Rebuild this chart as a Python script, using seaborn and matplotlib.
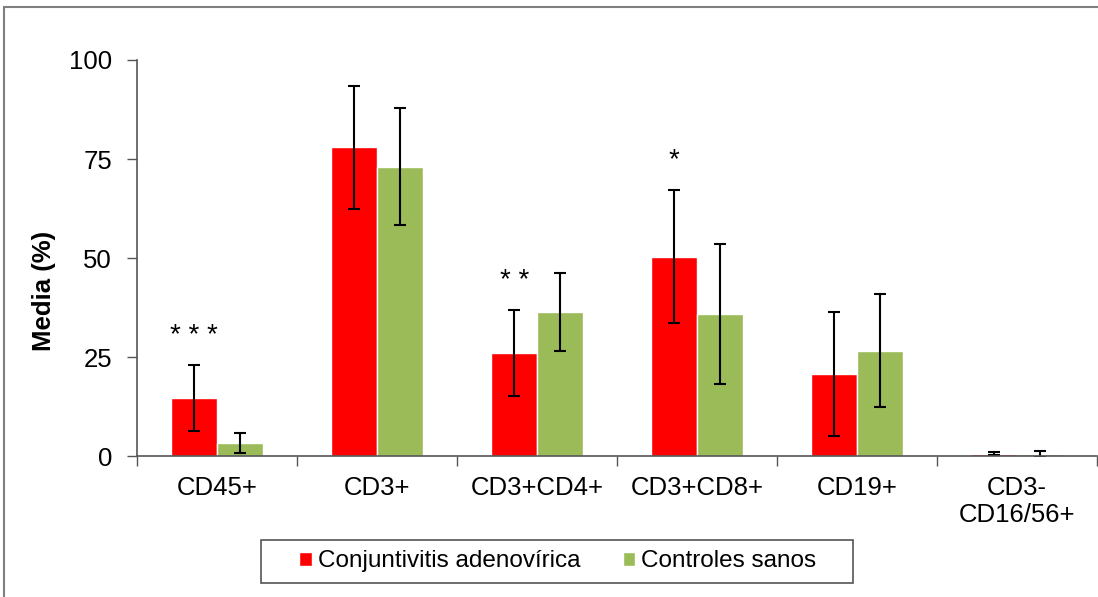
import numpy as np
import pandas as pd
import matplotlib
matplotlib.use("Agg")
import matplotlib.pyplot as plt
from matplotlib.patches import Rectangle
import seaborn as sns

categories = ["CD45+", "CD3+", "CD3+CD4+", "CD3+CD8+", "CD19+", "CD3-\nCD16/56+"]
series = ["Conjuntivitis adenovírica", "Controles sanos"]
adeno_mean = [14.6, 78.0, 26.0, 50.3, 20.8, 0.6]
adeno_err = [8.3, 15.5, 10.8, 16.8, 15.6, 0.4]
ctrl_mean = [3.3, 73.1, 36.4, 35.9, 26.6, 0.6]
ctrl_err = [2.5, 14.8, 9.9, 17.7, 14.3, 0.7]
signif = ["* * *", "", "* *", "*", "", ""]
colors = ["#FF0000", "#9BBB59"]
yticks = [0, 25, 50, 75, 100]

sns.set_style("white")
plt.rcParams["font.family"] = ["Liberation Sans", "DejaVu Sans"]
plt.rcParams["text.color"] = "black"
plt.rcParams["axes.labelcolor"] = "black"
plt.rcParams["xtick.labelcolor"] = "black"
plt.rcParams["ytick.labelcolor"] = "black"

df = pd.DataFrame({
    "cat": categories * 2,
    "grupo": [series[0]] * 6 + [series[1]] * 6,
    "val": adeno_mean + ctrl_mean,
    "err": adeno_err + ctrl_err,
})

fig = plt.figure(figsize=(10.98, 5.97), dpi=100)
ax = fig.add_axes([0.1248, 0.236, 0.8742, 0.6635])
sns.barplot(data=df, x="cat", y="val", hue="grupo", palette=colors,
            order=categories, hue_order=series, width=0.57, gap=0,
            saturation=1, errorbar=None, ax=ax, legend=True)

# error bars from bar patches
bars = [p for p in ax.patches if p.get_width() > 0][:12]
errs = adeno_err + ctrl_err
vals = adeno_mean + ctrl_mean
for p, v, e in zip(bars, vals, errs):
    xc = p.get_x() + p.get_width() / 2
    ax.errorbar(xc, v, yerr=e, fmt="none", ecolor="black", elinewidth=1.5,
                capsize=4.5, capthick=1.5)

# significance stars above the red bars
for i, s in enumerate(signif):
    if s:
        p = bars[i]
        xc = p.get_x() + p.get_width() / 2
        ax.text(xc, adeno_mean[i] + adeno_err[i] + 7.5, s, ha="center", va="center",
                fontsize=20, color="black")

ax.set_ylim(0, 100)
ax.set_xlim(-0.5, len(categories) - 0.5)
ax.set_yticks(yticks)
ax.set_xlabel("")
ax.set_ylabel("Media (%)", fontsize=18.5, fontweight="bold")
ax.yaxis.set_label_coords(-0.084, 0.417)
ax.tick_params(axis="y", labelsize=18.5, direction="out", length=7, width=1,
               color="#555555", left=True, pad=11)
ax.tick_params(axis="x", labelsize=18.5, length=0, pad=14)
ax.set_xticks(np.arange(-0.5, len(categories)), minor=True)
ax.tick_params(axis="x", which="minor", direction="out", length=7, width=1,
               color="#555555", bottom=True)
for side in ["top", "right"]:
    ax.spines[side].set_visible(False)
for side in ["left", "bottom"]:
    ax.spines[side].set_color("#555555")
    ax.spines[side].set_linewidth(1.2)

handles, labels = ax.get_legend_handles_labels()
ax.legend_.remove()
leg = fig.legend(handles, labels, loc="center", bbox_to_anchor=(0.508, 0.0595),
                 ncol=2, frameon=False, fontsize=17.5, handlelength=0.5,
                 handleheight=0.5, handletextpad=0.25, columnspacing=1.75,
                 borderpad=0.4, borderaxespad=0)

# legend frame (Excel-style wide box)
fig.patches.append(Rectangle((261 / 1098, 1 - 583 / 597), 592 / 1098, 43 / 597,
                             transform=fig.transFigure, fill=False,
                             edgecolor="#555555", linewidth=1.2))
# outer chart-area border
fig.patches.append(Rectangle((0.004, -0.05), 1.2, 1.038, transform=fig.transFigure,
                             fill=False, edgecolor="#7f7f7f", linewidth=1.5))

fig.savefig("out.png", dpi=100)
